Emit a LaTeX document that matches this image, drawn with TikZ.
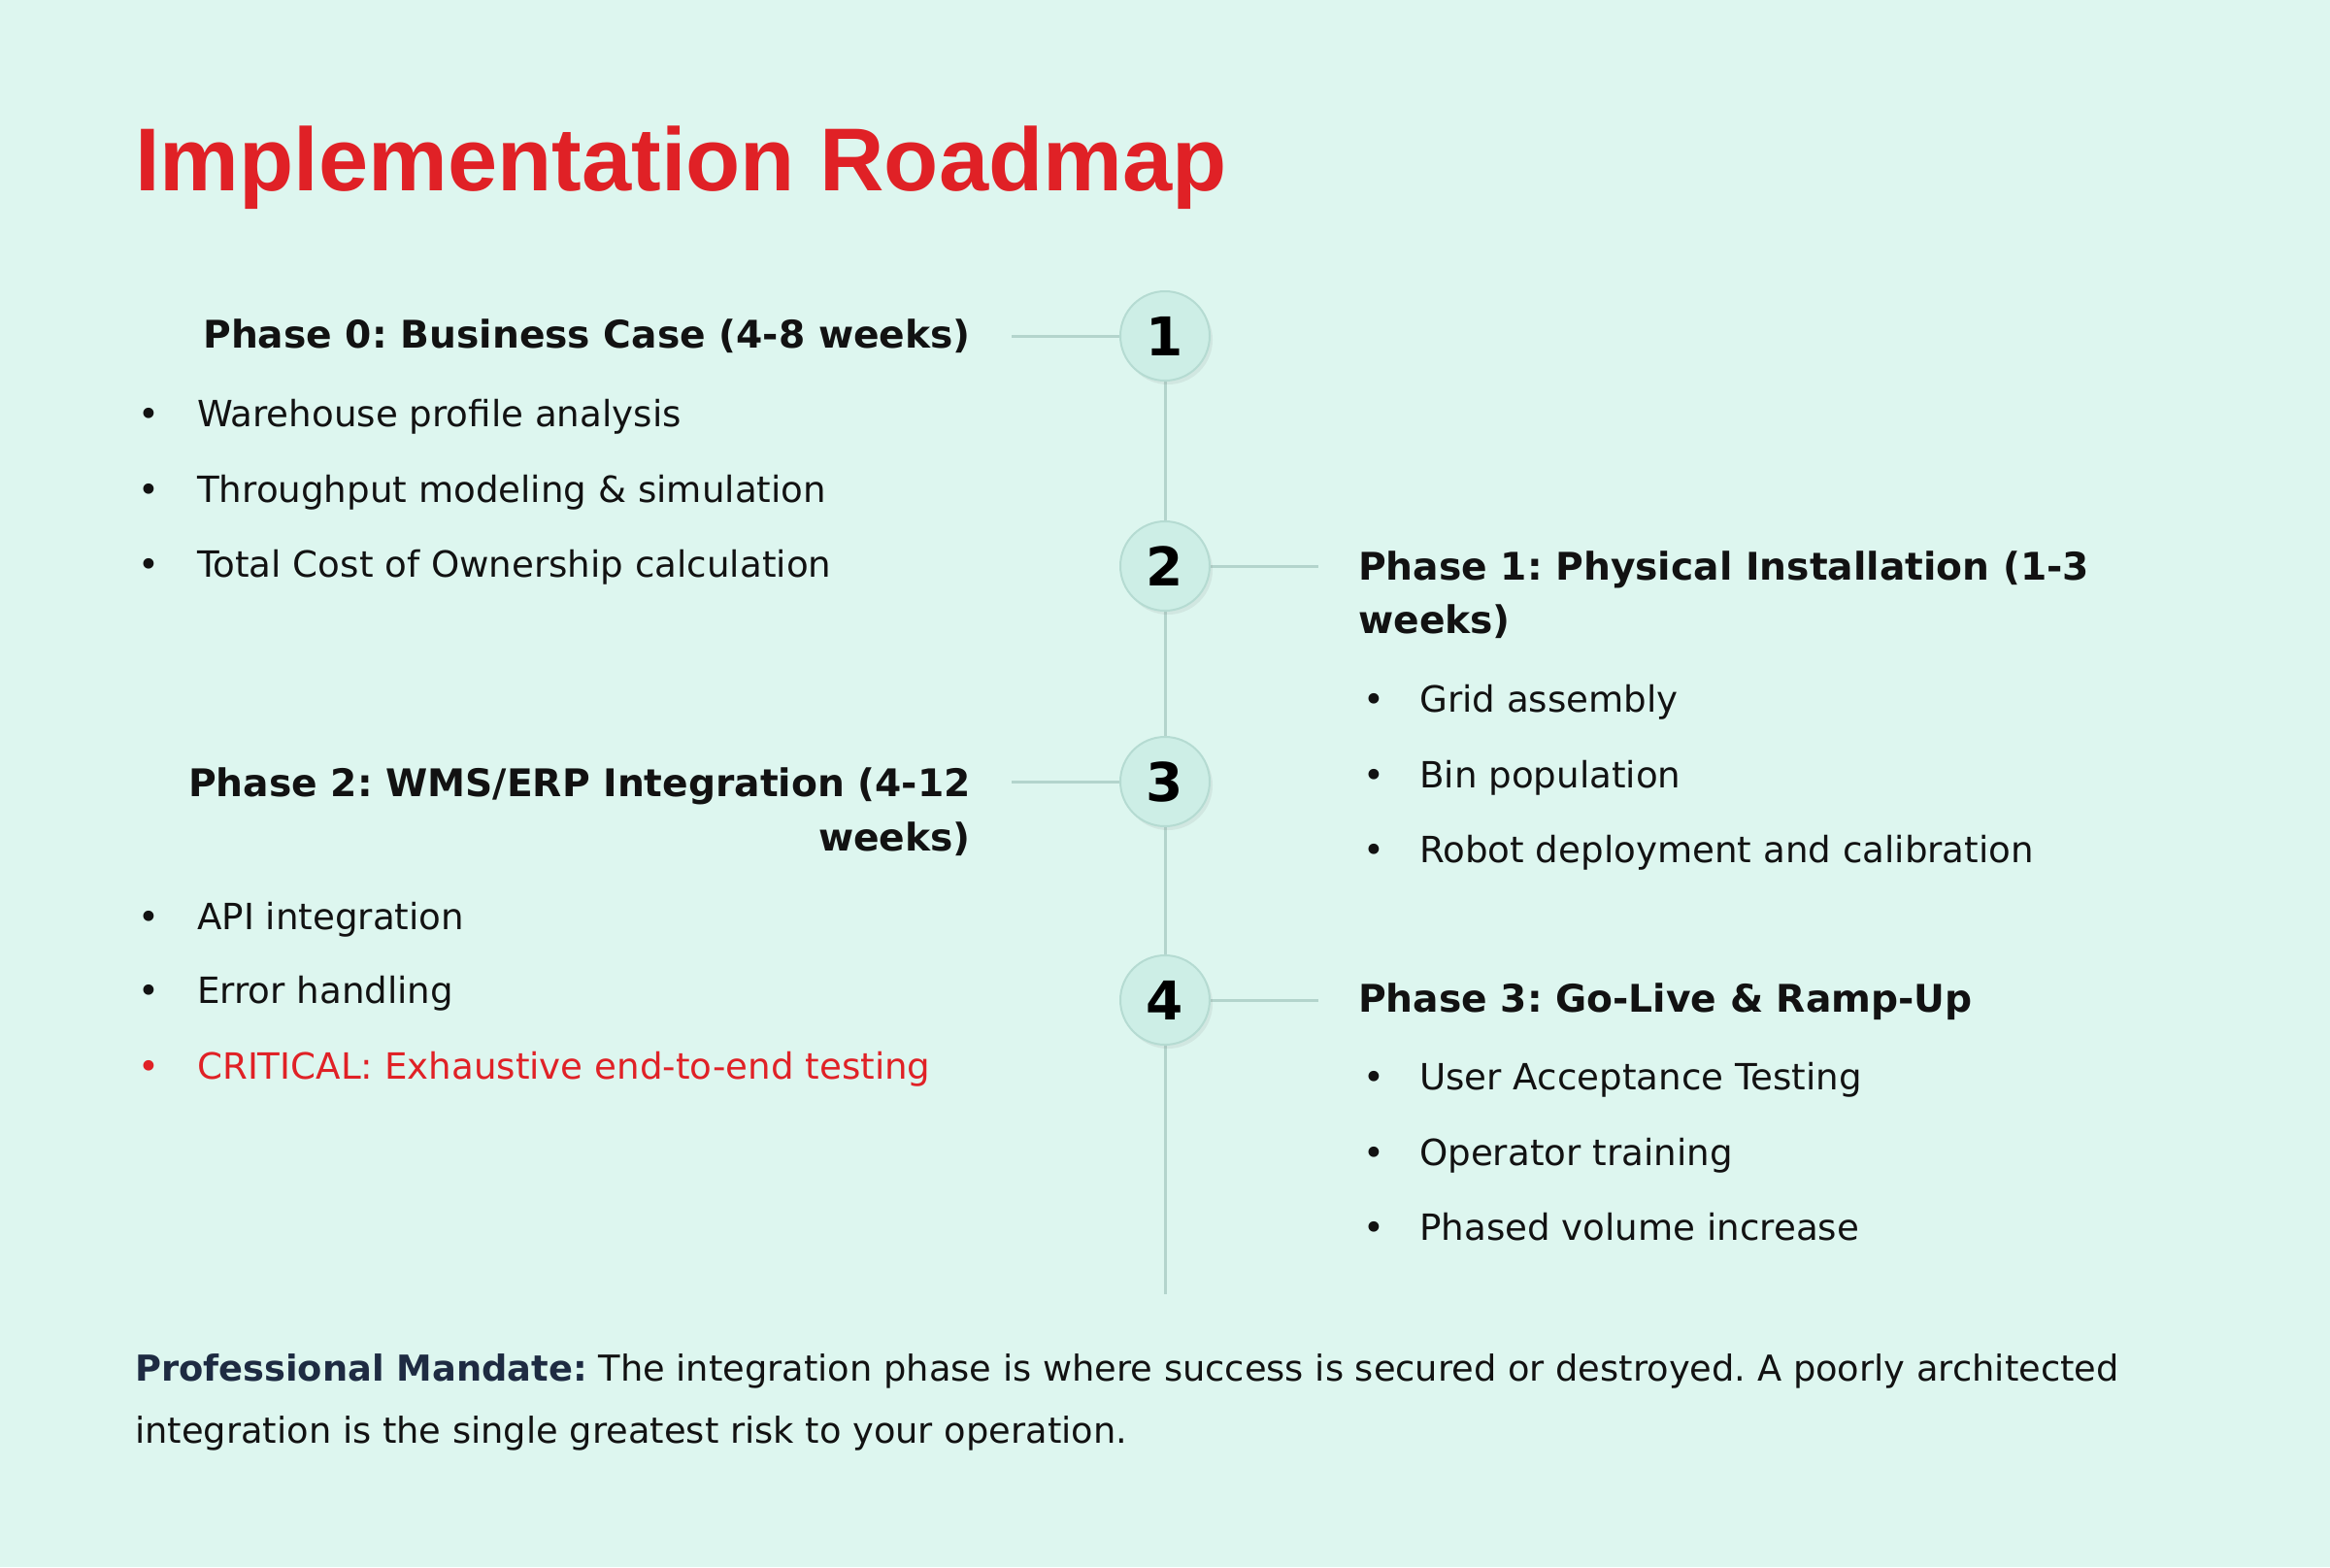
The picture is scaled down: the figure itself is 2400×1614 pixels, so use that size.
\documentclass[tikz,border=0pt]{standalone}
\usepackage{fontspec}
\setmainfont{DejaVu Sans}
\newfontfamily\titlefont{Liberation Sans}
\usetikzlibrary{shadows}
\definecolor{bg}{HTML}{DDF6EF}
\definecolor{titlered}{HTML}{E02126}
\definecolor{linec}{HTML}{B3D4CC}
\definecolor{circfill}{HTML}{CDEEE6}
\definecolor{circdraw}{HTML}{B5DBD2}
\definecolor{navy}{HTML}{1E2B42}
\definecolor{txt}{HTML}{121212}
\frenchspacing
\begin{document}
\begin{tikzpicture}[x=1pt,y=-1pt,
  conn/.style={draw=linec, line width=3pt},
  numcirc/.style={circle, minimum size=92pt, inner sep=0pt, fill=circfill, draw=circdraw, line width=2pt, drop shadow={opacity=0.12, shadow xshift=3pt, shadow yshift=-4pt}, font=\fontsize{55}{55}\selectfont\bfseries, text=black},
  head/.style={font=\fontsize{39.2}{47}\selectfont\bfseries, text=txt, inner sep=0pt},
  item/.style={font=\fontsize{37.2}{45}\selectfont, text=txt, inner sep=0pt, anchor=base west},
  bul/.style={font=\fontsize{37}{45}\selectfont, text=txt, inner sep=0pt, anchor=base},
  foot/.style={font=\fontsize{36.8}{45}\selectfont, text=txt, inner sep=0pt, anchor=base west},
]
\fill[bg] (0,0) rectangle (2400,1614);
\useasboundingbox (0,0) rectangle (2400,1614);

% title
\node[anchor=base west, inner sep=0pt, text=titlered, font=\fontsize{92}{100}\selectfont\titlefont\bfseries] (title) at (139,196) {Implementation Roadmap};

% timeline coordinates
\coordinate (p1) at (1200,346);
\coordinate (p2) at (1200,583);
\coordinate (p3) at (1200,805);
\coordinate (p4) at (1200,1030);
\coordinate (pend) at (1200,1333);
\coordinate (s1) at (1042,346);
\coordinate (s2) at (1358,583);
\coordinate (s3) at (1042,805);
\coordinate (s4) at (1358,1030);

\draw[conn] (p1) -- (p2) -- (p3) -- (p4) -- (pend);
\draw[conn] (p1) -- (s1);
\draw[conn] (p2) -- (s2);
\draw[conn] (p3) -- (s3);
\draw[conn] (p4) -- (s4);

\node[numcirc] (c1) at (p1) {1};
\node[numcirc] (c2) at (p2) {2};
\node[numcirc] (c3) at (p3) {3};
\node[numcirc] (c4) at (p4) {4};

% Phase 0
\node[head, anchor=base east] (h0) at (1000,358) {Phase 0: Business Case (4-8 weeks)};
\node[bul] (b01) at (153,439) {•};
\node[item] (t01) at (203,439) {Warehouse profile analysis};
\node[bul] (b02) at (153,517) {•};
\node[item] (t02) at (203,517) {Throughput modeling \& simulation};
\node[bul] (b03) at (153,594) {•};
\node[item] (t03) at (203,594) {Total Cost of Ownership calculation};

% Phase 2
\node[head, anchor=base east] (h2a) at (1000,820) {Phase 2: WMS/ERP Integration (4-12};
\node[head, anchor=base east] (h2b) at (1000,876) {weeks)};
\node[bul] (b21) at (153,957) {•};
\node[item] (t21) at (203,957) {API integration};
\node[bul] (b22) at (153,1033) {•};
\node[item] (t22) at (203,1033) {Error handling};
\node[bul, text=titlered] (b23) at (153,1111) {•};
\node[item, text=titlered] (t23) at (203,1111) {CRITICAL: Exhaustive end-to-end testing};

% Phase 1
\node[head, anchor=base west] (h1a) at (1399,597) {Phase 1: Physical Installation (1-3};
\node[head, anchor=base west] (h1b) at (1399,652) {weeks)};
\node[bul] (b11) at (1415,733) {•};
\node[item] (t11) at (1462,733) {Grid assembly};
\node[bul] (b12) at (1415,811) {•};
\node[item] (t12) at (1462,811) {Bin population};
\node[bul] (b13) at (1415,888) {•};
\node[item] (t13) at (1462,888) {Robot deployment and calibration};

% Phase 3
\node[head, anchor=base west] (h3) at (1399,1042) {Phase 3: Go-Live \& Ramp-Up};
\node[bul] (b31) at (1415,1122) {•};
\node[item] (t31) at (1462,1122) {User Acceptance Testing};
\node[bul] (b32) at (1415,1200) {•};
\node[item] (t32) at (1462,1200) {Operator training};
\node[bul] (b33) at (1415,1277) {•};
\node[item] (t33) at (1462,1277) {Phased volume increase};

% footer
\node[foot] (f1) at (139,1422) {{\color{navy}\bfseries Professional Mandate:} The integration phase is where success is secured or destroyed. A poorly architected};
\node[foot] (f2) at (139,1486) {integration is the single greatest risk to your operation.};
\end{tikzpicture}
\end{document}
